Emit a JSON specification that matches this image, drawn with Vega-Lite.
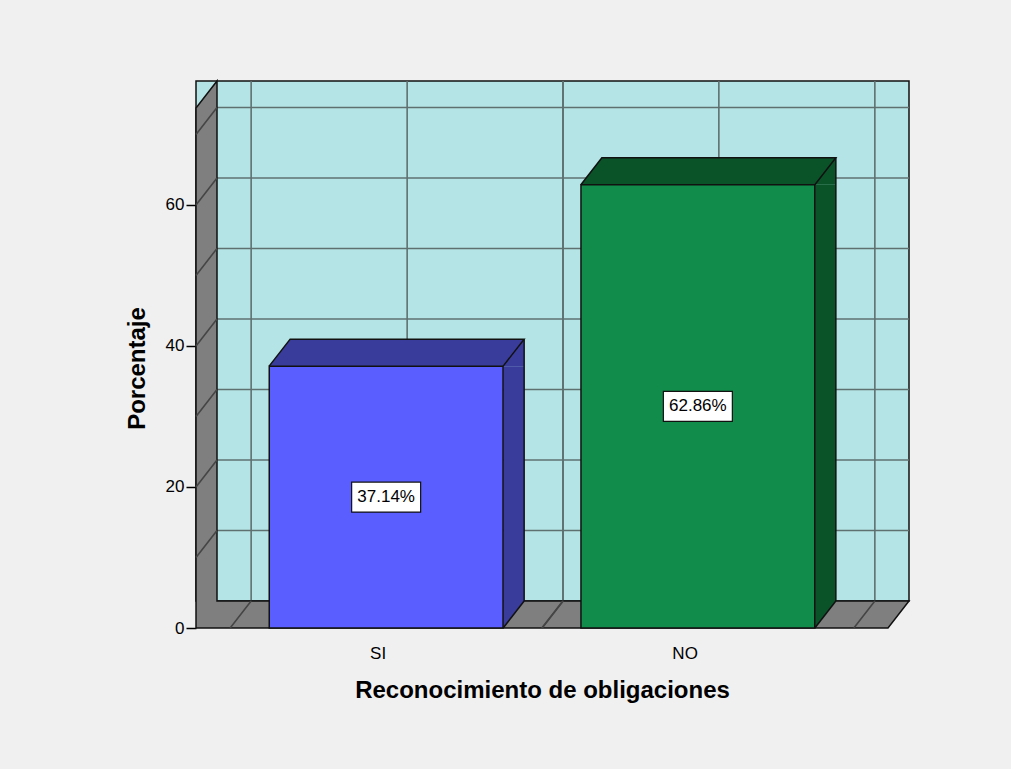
{
  "$schema": "https://vega.github.io/schema/vega-lite/v6.json",
  "width": 692,
  "height": 520,
  "autosize": {"type": "none"},
  "padding": {"left": 196, "top": 108, "right": 123, "bottom": 141},
  "background": "#f0f0f0",
  "config": {"view": {"stroke": null}, "font": "Liberation Sans"},
  "datasets": {
    "main": [
      {"Reconocimiento": "SI", "Porcentaje": 37.14},
      {"Reconocimiento": "NO", "Porcentaje": 62.86}
    ],
    "grid": [{"v": 10}, {"v": 20}, {"v": 30}, {"v": 40}, {"v": 50}, {"v": 60}, {"v": 70}],
    "one": [{"k": 1}]
  },
  "data": {"name": "main"},
  "resolve": {"scale": {"y": "independent"}},
  "layer": [
    {
      "layer": [
        {
          "data": {"name": "one"},
          "mark": {"type": "rect", "fill": "#b4e4e5", "stroke": "#111111", "strokeWidth": 1.5, "xOffset": 21, "x2Offset": 21, "yOffset": -27, "y2Offset": -27},
          "encoding": {
            "y": {"datum": 0, "type": "quantitative", "title": "Porcentaje", "scale": {"domain": [0, 73.75], "nice": false}},
            "y2": {"datum": 73.75}
          }
        },
        {
          "data": {"name": "grid"},
          "mark": {"type": "rule", "stroke": "#5f7070", "strokeWidth": 1.6, "xOffset": 21, "x2Offset": 21, "yOffset": -27},
          "encoding": {
            "y": {"field": "v", "type": "quantitative", "title": "Porcentaje", "scale": {"domain": [0, 73.75], "nice": false}}
          }
        },
        {
          "mark": {"type": "rule", "stroke": "#5f7070", "strokeWidth": 1.6, "xOffset": 21, "yOffset": -27, "y2Offset": -27},
          "encoding": {
            "x": {"field": "Reconocimiento", "type": "nominal", "sort": null, "title": "Reconocimiento de obligaciones"},
            "y": {"datum": 0, "type": "quantitative", "title": "Porcentaje", "scale": {"domain": [0, 73.75], "nice": false}},
            "y2": {"datum": 73.75}
          }
        },
        {
          "mark": {"type": "rule", "stroke": "#5f7070", "strokeWidth": 1.6, "xOffset": -135, "yOffset": -27, "y2Offset": -27},
          "encoding": {
            "x": {"field": "Reconocimiento", "type": "nominal", "sort": null, "title": "Reconocimiento de obligaciones"},
            "y": {"datum": 0, "type": "quantitative", "title": "Porcentaje", "scale": {"domain": [0, 73.75], "nice": false}},
            "y2": {"datum": 73.75}
          }
        },
        {
          "mark": {"type": "rule", "stroke": "#5f7070", "strokeWidth": 1.6, "xOffset": 177, "yOffset": -27, "y2Offset": -27},
          "encoding": {
            "x": {"field": "Reconocimiento", "type": "nominal", "sort": null, "title": "Reconocimiento de obligaciones"},
            "y": {"datum": 0, "type": "quantitative", "title": "Porcentaje", "scale": {"domain": [0, 73.75], "nice": false}},
            "y2": {"datum": 73.75}
          }
        },
        {
          "data": {"name": "one"},
          "mark": {"type": "point", "shape": "M-346,0 L-346,-520 L-325,-547 L-325,-27 L367,-27 L346,0 Z", "size": 4, "filled": true, "fill": "#7f7f7f", "stroke": "#111111", "strokeWidth": 1.5, "opacity": 1},
          "encoding": {
            "y": {"datum": 0, "type": "quantitative", "title": "Porcentaje", "scale": {"domain": [0, 73.75], "nice": false}}
          }
        },
        {
          "data": {"name": "grid"},
          "mark": {"type": "point", "shape": "M-346,0 L-325,-27", "size": 4, "filled": false, "stroke": "#454545", "strokeWidth": 1.6, "opacity": 1},
          "encoding": {
            "y": {"field": "v", "type": "quantitative", "title": "Porcentaje", "scale": {"domain": [0, 73.75], "nice": false}}
          }
        },
        {
          "mark": {"type": "point", "shape": "M-156,0 L-135,-27 M156,0 L177,-27", "size": 4, "filled": false, "stroke": "#454545", "strokeWidth": 1.6, "opacity": 1},
          "encoding": {
            "x": {"field": "Reconocimiento", "type": "nominal", "sort": null, "title": "Reconocimiento de obligaciones"},
            "y": {"datum": 0, "type": "quantitative", "title": "Porcentaje", "scale": {"domain": [0, 73.75], "nice": false}}
          }
        },
        {
          "mark": {"type": "bar", "width": 21, "xOffset": 127.5, "y2Offset": -27, "strokeWidth": 0},
          "encoding": {
            "x": {"field": "Reconocimiento", "type": "nominal", "sort": null, "title": "Reconocimiento de obligaciones"},
            "y": {"field": "Porcentaje", "type": "quantitative", "title": "Porcentaje", "scale": {"domain": [0, 73.75], "nice": false}},
            "y2": {"datum": 0},
            "fill": {"condition": {"test": "datum.Reconocimiento === 'SI'", "value": "#393c9a"}, "value": "#0a5329"}
          }
        },
        {
          "mark": {"type": "point", "shape": "M-117,0 L-96,-27 L138,-27 L138,0 Z", "size": 4, "filled": true, "strokeWidth": 0, "opacity": 1},
          "encoding": {
            "x": {"field": "Reconocimiento", "type": "nominal", "sort": null, "title": "Reconocimiento de obligaciones"},
            "y": {"field": "Porcentaje", "type": "quantitative", "title": "Porcentaje", "scale": {"domain": [0, 73.75], "nice": false}},
            "fill": {"condition": {"test": "datum.Reconocimiento === 'SI'", "value": "#393c9a"}, "value": "#0a5329"}
          }
        },
        {
          "mark": {"type": "point", "shape": "M117,-27 L138,-27 L117,0 Z", "size": 4, "filled": true, "strokeWidth": 0, "opacity": 1},
          "encoding": {
            "x": {"field": "Reconocimiento", "type": "nominal", "sort": null, "title": "Reconocimiento de obligaciones"},
            "y": {"datum": 0, "type": "quantitative", "title": "Porcentaje", "scale": {"domain": [0, 73.75], "nice": false}},
            "fill": {"condition": {"test": "datum.Reconocimiento === 'SI'", "value": "#393c9a"}, "value": "#0a5329"}
          }
        },
        {
          "mark": {"type": "bar", "stroke": "#111111", "strokeWidth": 1.5},
          "encoding": {
            "x": {
              "field": "Reconocimiento", "type": "nominal", "sort": null, "title": "Reconocimiento de obligaciones",
              "scale": {"paddingInner": 0.25, "paddingOuter": 0.235},
              "axis": {"title": "Reconocimiento de obligaciones", "ticks": false, "domain": false, "grid": false, "labelAngle": 0, "labelFontSize": 17, "labelColor": "#000000", "labelPadding": 25, "titleFontSize": 24, "titleFontWeight": "bold", "titleColor": "#000000", "titlePadding": 17}
            },
            "y": {
              "field": "Porcentaje", "type": "quantitative", "title": "Porcentaje",
              "scale": {"domain": [0, 73.75], "nice": false},
              "axis": {"title": "Porcentaje", "values": [0, 20, 40, 60], "grid": false, "domain": false, "tickSize": 10, "tickColor": "#000000", "tickWidth": 1.5, "labelFontSize": 17, "labelColor": "#000000", "labelPadding": 2, "titleFontSize": 24, "titleFontWeight": "bold", "titleColor": "#000000", "titlePadding": 16}
            },
            "fill": {"condition": {"test": "datum.Reconocimiento === 'SI'", "value": "#5a5eff"}, "value": "#118c4b"}
          }
        },
        {
          "mark": {"type": "point", "shape": "M-117,0 L-96,-27 L138,-27 L117,0", "size": 4, "filled": false, "stroke": "#111111", "strokeWidth": 1.5, "opacity": 1},
          "encoding": {
            "x": {"field": "Reconocimiento", "type": "nominal", "sort": null, "title": "Reconocimiento de obligaciones"},
            "y": {"field": "Porcentaje", "type": "quantitative", "title": "Porcentaje", "scale": {"domain": [0, 73.75], "nice": false}}
          }
        },
        {
          "mark": {"type": "point", "shape": "M117,0 L138,-27", "size": 4, "filled": false, "stroke": "#111111", "strokeWidth": 1.5, "opacity": 1},
          "encoding": {
            "x": {"field": "Reconocimiento", "type": "nominal", "sort": null, "title": "Reconocimiento de obligaciones"},
            "y": {"datum": 0, "type": "quantitative", "title": "Porcentaje", "scale": {"domain": [0, 73.75], "nice": false}}
          }
        },
        {
          "mark": {"type": "rule", "stroke": "#111111", "strokeWidth": 1.5, "xOffset": 138, "yOffset": -27, "y2Offset": -27},
          "encoding": {
            "x": {"field": "Reconocimiento", "type": "nominal", "sort": null, "title": "Reconocimiento de obligaciones"},
            "y": {"field": "Porcentaje", "type": "quantitative", "title": "Porcentaje", "scale": {"domain": [0, 73.75], "nice": false}},
            "y2": {"datum": 0}
          }
        }
      ]
    },
    {
      "layer": [
        {
          "mark": {"type": "point", "shape": "M-34.5,-15 L34.5,-15 L34.5,15 L-34.5,15 Z", "size": 4, "filled": true, "fill": "#ffffff", "stroke": "#111111", "strokeWidth": 1.2, "opacity": 1},
          "encoding": {
            "x": {"field": "Reconocimiento", "type": "nominal", "sort": null, "title": "Reconocimiento de obligaciones"},
            "y": {"field": "Porcentaje", "type": "quantitative", "scale": {"domain": [0, 147.5], "nice": false},
                  "axis": {"orient": "right", "title": null, "labels": false, "ticks": false, "domain": false, "grid": false}}
          }
        },
        {
          "mark": {"type": "text", "fontSize": 17, "color": "#000000", "baseline": "middle", "align": "center", "text": {"expr": "format(datum.Porcentaje, '.2f') + '%'"}},
          "encoding": {
            "x": {"field": "Reconocimiento", "type": "nominal", "sort": null, "title": "Reconocimiento de obligaciones"},
            "y": {"field": "Porcentaje", "type": "quantitative", "scale": {"domain": [0, 147.5], "nice": false},
                  "axis": {"orient": "right", "title": null, "labels": false, "ticks": false, "domain": false, "grid": false}}
          }
        }
      ]
    }
  ]
}
